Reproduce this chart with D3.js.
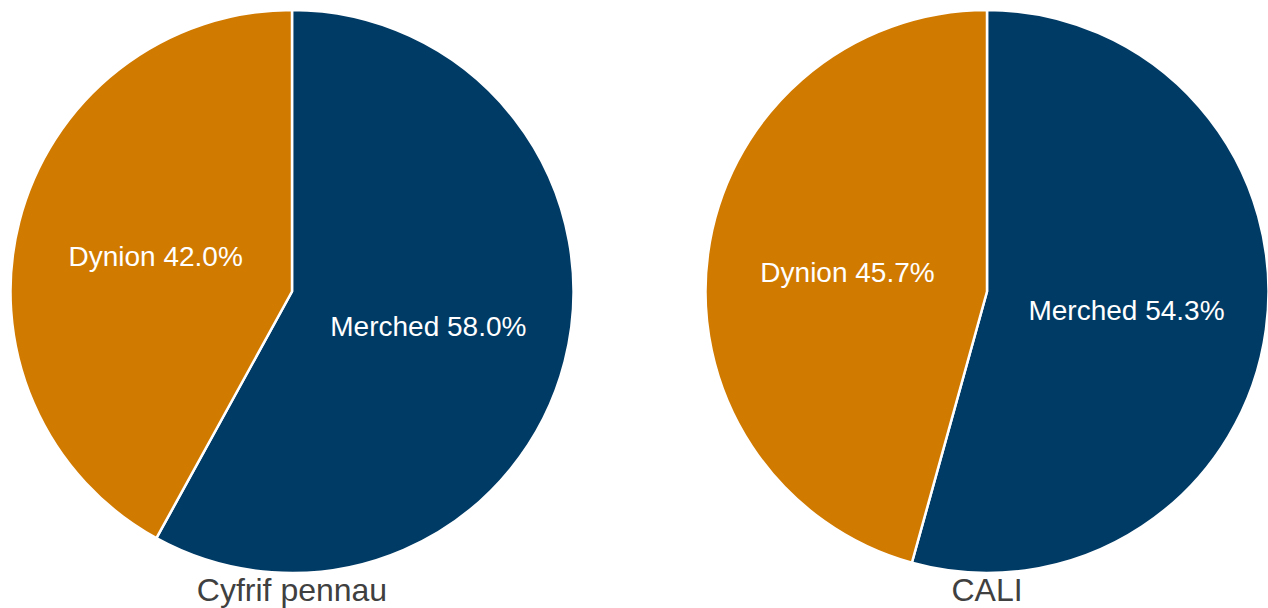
<!DOCTYPE html>
<html>
<head>
<meta charset="utf-8">
<script src="https://cdn.jsdelivr.net/npm/d3@7/dist/d3.min.js"></script>
<style>
  html, body { margin: 0; padding: 0; background: #ffffff; }
  svg { display: block; }
</style>
</head>
<body>
<svg id="chart" width="1268" height="608"></svg>
<script>
// Data
const charts = ["Cyfrif pennau", "CALI"];
const categories = ["Merched", "Dynion"];
const valuesHeadcount = [58.0, 42.0];
const valuesCali = [54.3, 45.7];
const colors = ["#003B66", "#D17A00"];

const seriesList = [valuesHeadcount, valuesCali];
const centersX = [292, 987];
const centerY = 291.5;
const radius = 281.5;

const svg = d3.select("#chart");
const color = d3.scaleOrdinal().domain(categories).range(colors);
const pie = d3.pie().sort(null).value(d => d.value);
const arc = d3.arc().innerRadius(0).outerRadius(radius);

seriesList.forEach((vals, i) => {
  const data = categories.map((c, j) => ({ name: c, value: vals[j] }));
  const g = svg.append("g").attr("transform", `translate(${centersX[i]},${centerY})`);
  const arcs = pie(data);
  g.selectAll("path")
    .data(arcs)
    .join("path")
    .attr("d", arc)
    .attr("fill", d => color(d.data.name))
    .attr("stroke", "#ffffff")
    .attr("stroke-width", 2.5)
    .attr("stroke-linejoin", "round");
  g.selectAll("text.lbl")
    .data(arcs)
    .join("text")
    .attr("class", "lbl")
    .attr("transform", d => {
      const a = (d.startAngle + d.endAngle) / 2;
      const rr = radius * 0.5;
      return `translate(${Math.sin(a) * rr},${-Math.cos(a) * rr})`;
    })
    .attr("text-anchor", "middle")
    .attr("dy", "0.35em")
    .attr("fill", "#ffffff")
    .style("font-family", "'Liberation Sans', Arial, sans-serif")
    .style("font-size", "28px")
    .text(d => `${d.data.name} ${d.data.value.toFixed(1)}%`);
  svg.append("text")
    .attr("x", centersX[i])
    .attr("y", 601)
    .attr("text-anchor", "middle")
    .attr("fill", "#404040")
    .style("font-family", "'Liberation Sans', Arial, sans-serif")
    .style("font-size", "32px")
    .text(charts[i]);
});
</script>
</body>
</html>
